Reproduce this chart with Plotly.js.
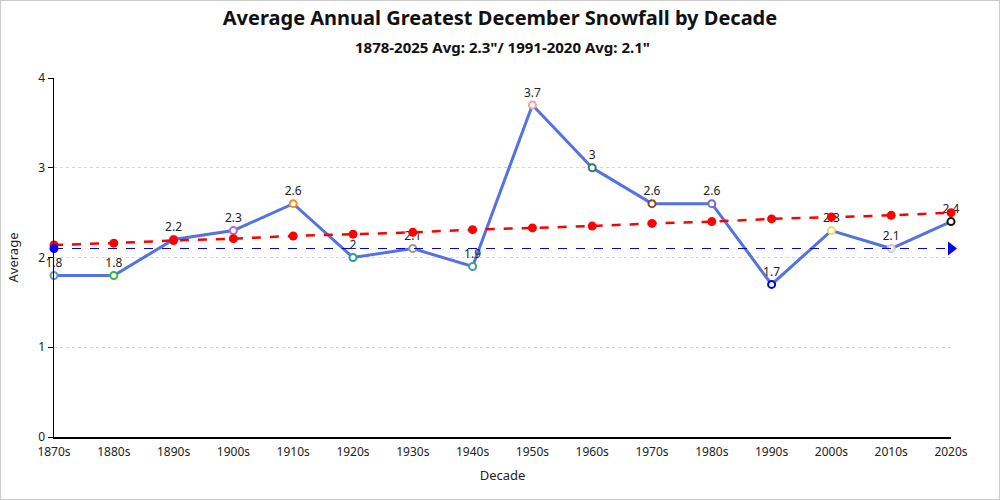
<!DOCTYPE html>
<html><head><meta charset="utf-8">
<script src="https://cdn.plot.ly/plotly-3.0.1.min.js"></script>
<style>html,body{margin:0;padding:0;background:#fff}#c{width:998px;height:498px;border:1px solid #ccc}</style>
</head><body><div id="c"></div>
<script>
const decades = ["1870s","1880s","1890s","1900s","1910s","1920s","1930s","1940s","1950s","1960s","1970s","1980s","1990s","2000s","2010s","2020s"];
const averages = [1.8,1.8,2.2,2.3,2.6,2.0,2.1,1.9,3.7,3.0,2.6,2.6,1.7,2.3,2.1,2.4];
const markerColors = ["#6b8fd6","#3cb043","#e03030","#b36ad8","#f0901e","#2a9d8f","#9a9a9a","#4a9aa8","#f0a0a8","#2e7d6e","#8b4a1e","#7b68d8","#0000dd","#e6e060","#c8c8e8","#111111"];
const trend = [2.14,2.16,2.19,2.21,2.24,2.26,2.28,2.31,2.33,2.35,2.38,2.40,2.43,2.45,2.47,2.50];
const normalValue = 2.1;
const normalEnds = [decades[0], decades[decades.length-1]];
const titleText = "Average Annual Greatest December Snowfall by Decade";
const subtitleText = "1878-2025 Avg: 2.3\"/ 1991-2020 Avg: 2.1\"";

const font = "Noto Sans, Open Sans, sans-serif";
const traces = [
  {x: decades, y: averages, type: "scatter", mode: "lines+markers+text",
   text: averages.map(String), textposition: "top center", cliponaxis: false,
   textfont: {size: 12, color: "#222", family: font},
   line: {color: "#5473e0", width: 3},
   marker: {size: 7, color: "#ffffff", symbol: "circle", line: {color: markerColors, width: 2}},
   hoverinfo: "x+y", showlegend: false},
  {x: decades, y: trend, type: "scatter", mode: "lines+markers", cliponaxis: false,
   line: {color: "#ff0000", width: 2.5, dash: "dash"},
   marker: {size: 9, color: "#ff0000"}, showlegend: false},
  {x: normalEnds, y: [normalValue, normalValue], type: "scatter", mode: "lines",
   line: {color: "#0000cc", width: 1, dash: "dash"}, showlegend: false},
  {x: [normalEnds[0]], y: [normalValue], type: "scatter", mode: "markers", cliponaxis: false,
   marker: {size: 9, color: "#0000ff", symbol: "circle"}, showlegend: false},
  {x: [normalEnds[1]], y: [normalValue], type: "scatter", mode: "markers", cliponaxis: false,
   marker: {size: 12, color: "#0000ff", symbol: "triangle-right"}, showlegend: false}
];
const layout = {
  width: 998, height: 498,
  margin: {l: 53, r: 48, t: 77, b: 62},
  paper_bgcolor: "#fff", plot_bgcolor: "#fff",
  font: {family: font, size: 12, color: "#222"},
  title: {text: "<b>" + titleText + "</b>", x: 0.5, xanchor: "center",
          yref: "container", y: 0.966, yanchor: "middle", font: {size: 20, color: "#111", family: font}},
  annotations: [{text: "<b>" + subtitleText + "</b>", xref: "paper", yref: "paper",
          x: 0.5, y: 1.086, xanchor: "center", yanchor: "middle", showarrow: false,
          font: {size: 15, color: "#111", family: font}}],
  xaxis: {type: "category", range: [0, 15], showgrid: false, zeroline: false,
          showline: true, linecolor: "#000", linewidth: 1.5, ticks: "outside", ticklen: 3, tickcolor: "rgba(0,0,0,0)",
          tickfont: {size: 12, color: "#222"},
          title: {text: "Decade", font: {size: 13, color: "#222"}, standoff: 12}},
  yaxis: {range: [0, 4], dtick: 1, showgrid: true, gridcolor: "#d6d6d6", griddash: "dot", gridwidth: 1,
          zeroline: false, showline: true, linecolor: "#000", linewidth: 1.5,
          ticks: "outside", ticklen: 5, tickcolor: "#000",
          tickfont: {size: 12, color: "#222"},
          title: {text: "Average", font: {size: 13, color: "#222"}, standoff: 16}}
};
Plotly.newPlot("c", traces, layout, {displayModeBar: false, staticPlot: true});
</script></body></html>
